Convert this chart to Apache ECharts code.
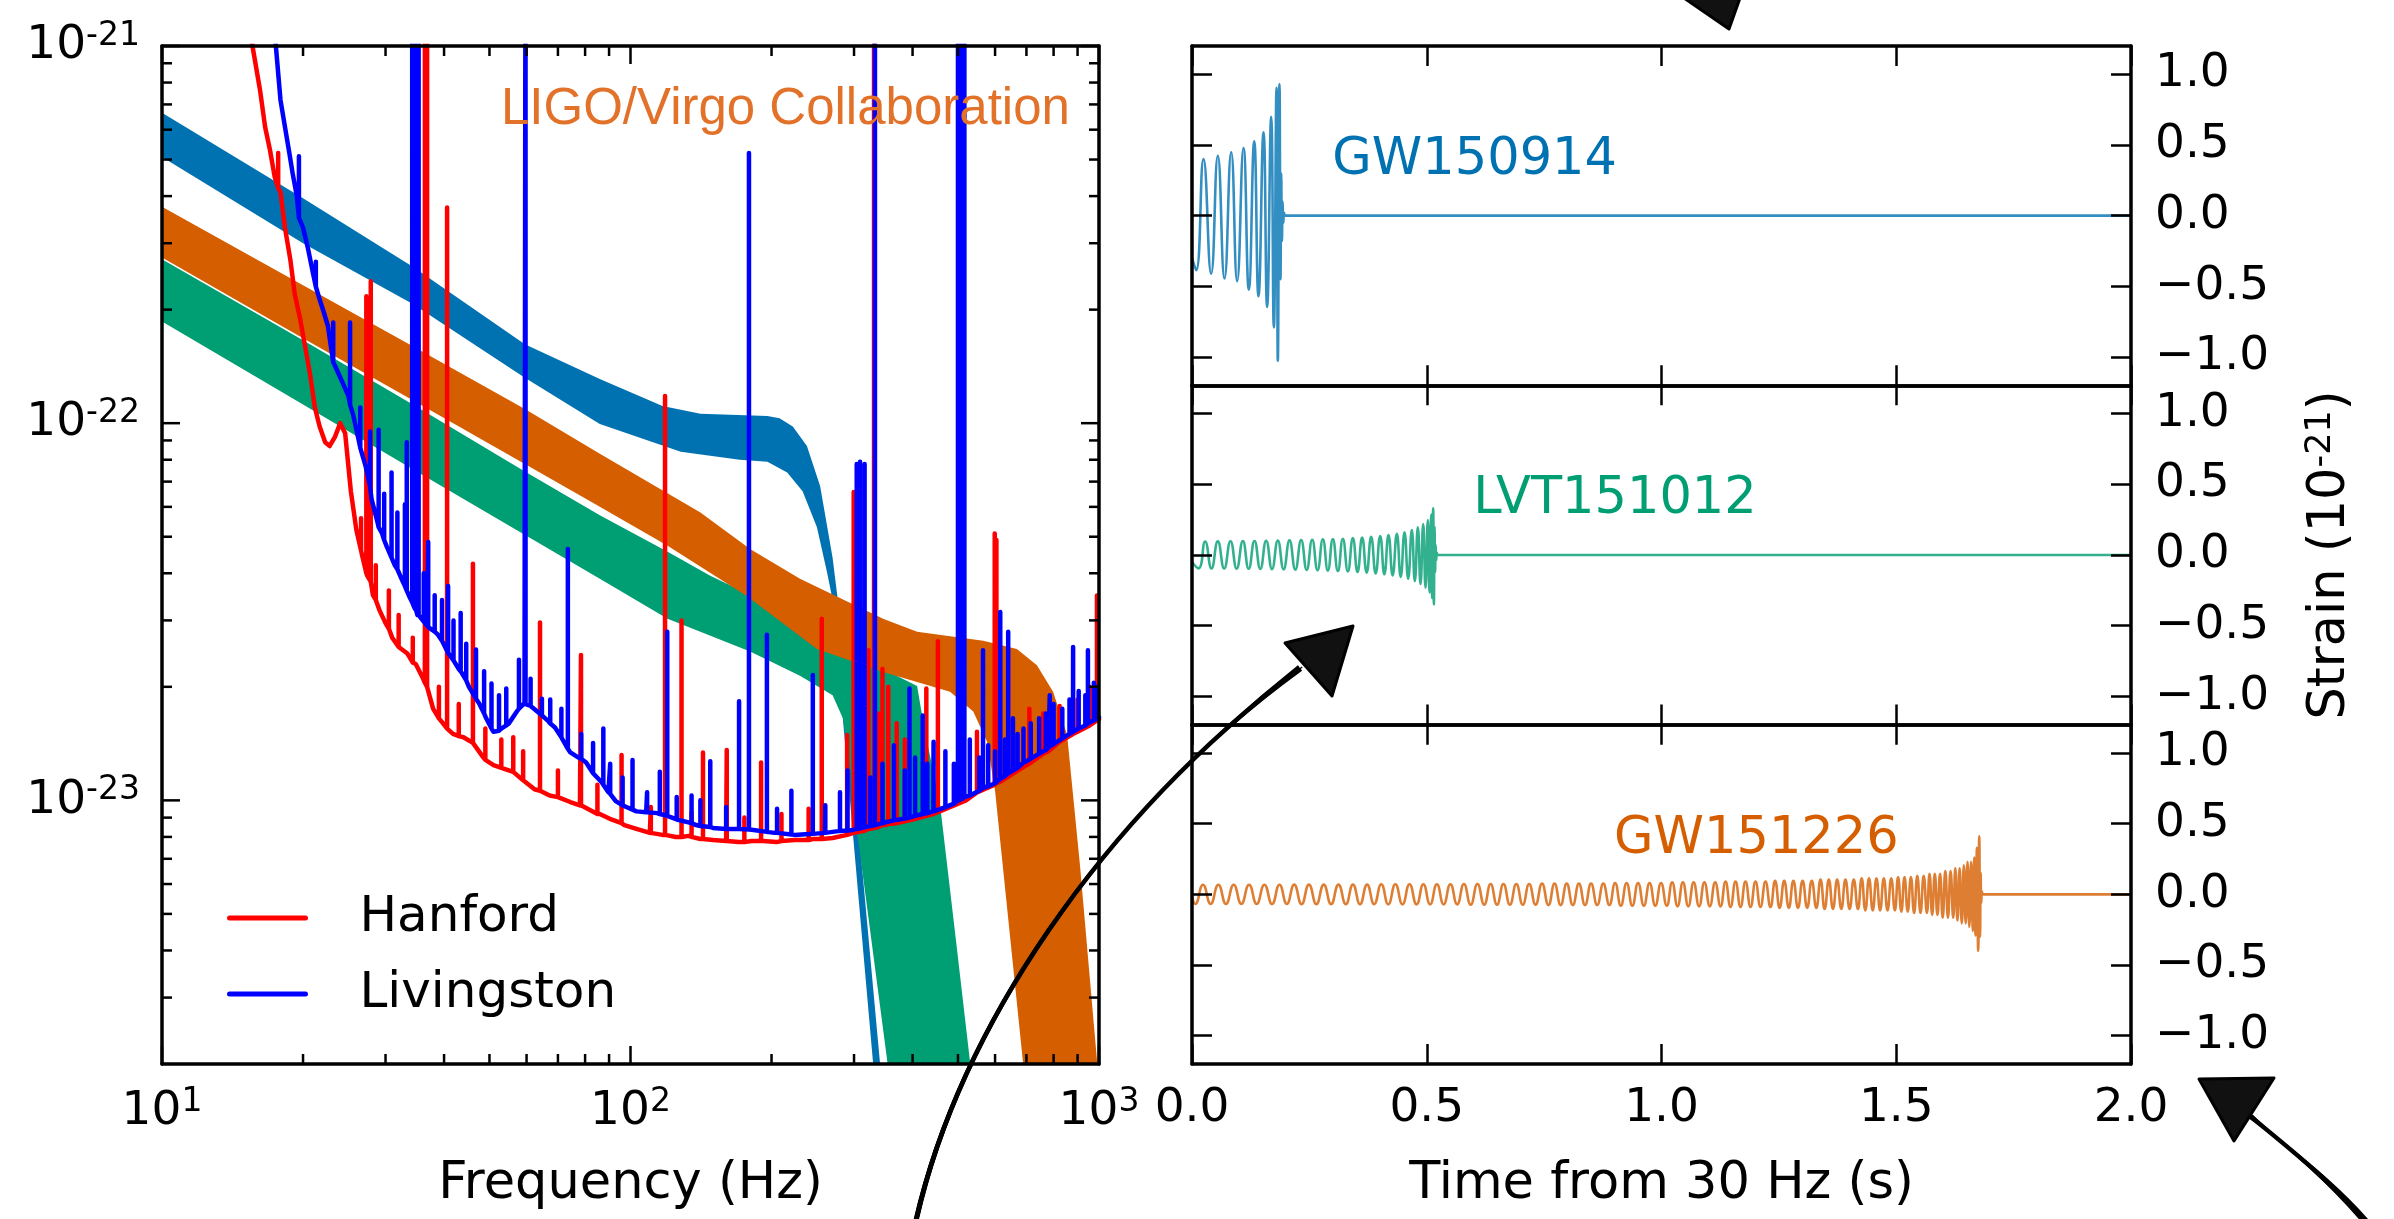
<!DOCTYPE html>
<html>
<head>
<meta charset="utf-8">
<script src="https://cdn.jsdelivr.net/npm/echarts@6/dist/echarts.min.js"></script>
<style>
html, body { margin: 0; padding: 0; background: #fff; }
#chart { width: 2394px; height: 1219px; }
</style>
</head>
<body>
<div id="chart"></div>
<script>
// ---------- axis ranges and tick values ----------
const FREQ_MIN = 10, FREQ_MAX = 1000;
const STRAIN_MIN = 2e-24, STRAIN_MAX = 1e-21;
const freqTicksMajor = [10, 100, 1000];
const freqTickExponents = ['1', '2', '3'];
const freqTicksMinor = [20, 30, 40, 50, 60, 70, 80, 90, 200, 300, 400, 500, 600, 700, 800, 900];
const strainTicksMajor = [1e-23, 1e-22, 1e-21];
const strainTickExponents = ['-23', '-22', '-21'];
const strainTicksMinor = [3e-24, 4e-24, 5e-24, 6e-24, 7e-24, 8e-24, 9e-24,
  2e-23, 3e-23, 4e-23, 5e-23, 6e-23, 7e-23, 8e-23, 9e-23,
  2e-22, 3e-22, 4e-22, 5e-22, 6e-22, 7e-22, 8e-22, 9e-22];
const TIME_MIN = 0, TIME_MAX = 2, TIME_STEP = 0.5;
const PANEL_MIN = -1.2, PANEL_MAX = 1.2;
const panelStrainTicks = [-1, -0.5, 0, 0.5, 1];

// ---------- signal bands: [frequency Hz, amplitude] along upper and lower edges ----------
const gw150914BandUpper = [[10, 6.65e-22], [20, 3.95e-22], [34.3, 2.6e-22], [59.5, 1.62e-22], [86, 1.31e-22],
  [117, 1.11e-22], [141, 1.06e-22], [196, 1.045e-22], [208, 1.03e-22], [222, 9.8e-23], [238, 8.7e-23],
  [254, 6.8e-23], [270, 4.4e-23], [277, 3.4e-23], [307, 8.3e-24], [341, 2.0e-24], [352, 1.3e-24]];
const gw150914BandLower = [[10, 5.08e-22], [20, 3.0e-22], [34.3, 2.07e-22], [59.5, 1.32e-22], [86, 9.95e-23],
  [128, 8.4e-23], [171, 8.0e-23], [196, 7.9e-23], [216, 7.4e-23], [233, 6.6e-23], [250, 5.3e-23],
  [263, 4.0e-23], [270, 3.4e-23], [298, 8.3e-24], [329, 2.05e-24], [340, 1.3e-24]];

const lvt151012BandUpper = [[10, 2.72e-22], [20, 1.66e-22], [34.3, 1.12e-22], [59.5, 7.45e-23], [86, 5.7e-23],
  [120, 4.56e-23], [148, 3.94e-23], [230, 3.03e-23], [298, 2.48e-23], [346, 2.23e-23], [409, 2.01e-23],
  [425, 1.52e-23], [443, 1.19e-23], [458, 9.7e-24], [493, 4.45e-24], [530, 2.05e-24], [544, 1.53e-24]];
const lvt151012BandLower = [[10, 1.86e-22], [20, 1.12e-22], [34.3, 7.55e-23], [86, 3.87e-23], [120, 3.03e-23],
  [180, 2.48e-23], [230, 2.14e-23], [270, 1.9e-23], [284, 1.65e-23], [294, 1.24e-23], [304.5, 8.3e-24],
  [353, 2.05e-24], [361, 1.53e-24]];

const gw151226BandUpper = [[10, 3.75e-22], [20, 2.32e-22], [34.3, 1.6e-22], [59.5, 1.09e-22], [86, 8.3e-23],
  [141, 5.8e-23], [180, 4.64e-23], [230, 3.87e-23], [346, 3.03e-23], [409, 2.8e-23], [566, 2.65e-23],
  [668, 2.52e-23], [737, 2.28e-23], [798, 1.94e-23], [855, 1.49e-23], [911, 6.7e-24], [990, 2.05e-24], [1030, 1.36e-24]];
const gw151226BandLower = [[10, 2.75e-22], [20, 1.68e-22], [34.3, 1.15e-22], [59.5, 7.8e-23], [86, 6.0e-23],
  [120, 4.73e-23], [177, 3.48e-23], [250, 2.52e-23], [346, 2.19e-23], [481, 1.94e-23], [539, 1.72e-23],
  [577, 1.43e-23], [600, 1.06e-23], [688, 2.03e-24], [701, 1.44e-24]];

// ---------- detector noise: floor [f, asd] and spectral lines [f, floor, peak] ----------
const hanfordFloor = [[15.0, 1.5e-21], [15.6, 1.0e-21], [16.2, 7.6e-22], [16.6, 6.1e-22], [17.0, 5.3e-22], [17.4, 4.5e-22],
  [17.9, 4.1e-22], [18.3, 3.3e-22], [18.8, 2.7e-22], [19.2, 2.2e-22], [19.7, 1.9e-22], [20.2, 1.6e-22], [20.7, 1.35e-22],
  [21.2, 1.1e-22], [21.7, 9.8e-23], [22.3, 8.9e-23], [22.8, 8.7e-23], [23.4, 9.2e-23], [24.0, 1.0e-22], [24.6, 9.4e-23],
  [25.3, 6.6e-23], [26.0, 5.2e-23], [26.7, 4.5e-23], [27.4, 3.95e-23], [28.2, 3.5e-23], [29.1, 3.2e-23], [30.0, 2.95e-23],
  [31.0, 2.7e-23], [32.2, 2.55e-23], [33.4, 2.45e-23], [34.8, 2.3e-23], [36.1, 2.1e-23], [37.9, 1.75e-23], [39.8, 1.6e-23],
  [41.8, 1.5e-23], [44.0, 1.47e-23], [46.3, 1.42e-23], [48.5, 1.3e-23], [51.0, 1.24e-23], [53.5, 1.22e-23], [56.5, 1.19e-23],
  [59.5, 1.12e-23], [62.4, 1.07e-23], [67.2, 1.03e-23], [70.5, 1.02e-23], [74.4, 9.9e-24], [78, 9.7e-24], [82.3, 9.4e-24],
  [86, 9.2e-24], [91, 8.9e-24], [97, 8.6e-24], [103, 8.4e-24], [110, 8.2e-24], [117, 8.1e-24], [125, 8.0e-24], [133, 8.05e-24],
  [141, 7.9e-24], [150, 7.85e-24], [160, 7.8e-24], [170, 7.75e-24], [181, 7.8e-24], [192, 7.8e-24], [205, 7.75e-24],
  [224, 7.85e-24], [245, 7.9e-24], [270, 7.95e-24], [300, 8.2e-24], [350, 8.6e-24], [400, 8.9e-24], [443, 9.2e-24],
  [520, 1.0e-23], [615, 1.12e-23], [700, 1.24e-23], [780, 1.35e-23], [880, 1.5e-23], [1000, 1.64e-23]];
const hanfordLines = [[17.7, 4.2e-22, 5.2e-22], [27.3, 4.0e-23, 2.17e-22], [27.9, 3.8e-23, 2.38e-22], [30.5, 2.85e-23, 3.6e-23],
  [36.4, 2.05e-23, 3e-21], [36.8, 2.0e-23, 3e-21], [40.6, 1.55e-23, 3.73e-22], [46.1, 1.42e-23, 4.24e-23],
  [56.2, 1.19e-23, 1.47e-23], [64.1, 1.06e-23, 2.96e-23], [78.4, 9.7e-24, 2.43e-23], [95.7, 8.7e-24, 1.32e-23],
  [118.5, 8.1e-24, 1.18e-22], [128.5, 8.0e-24, 3.0e-23], [142.8, 7.9e-24, 1.34e-23], [160.5, 7.8e-24, 1.36e-23],
  [190, 7.8e-24, 1.26e-23], [256, 7.9e-24, 3.03e-23], [290, 8.1e-24, 1.49e-23], [299.5, 8.2e-24, 6.57e-23],
  [315, 8.3e-24, 1.9e-23], [322, 8.4e-24, 2.5e-23], [331, 8.45e-24, 3e-21], [338, 8.5e-24, 1.7e-23], [345, 8.6e-24, 2.23e-23],
  [355, 8.65e-24, 2.0e-23], [370, 8.7e-24, 1.6e-23], [385, 8.8e-24, 1.45e-23], [428, 9.1e-24, 1.98e-23], [453, 9.3e-24, 2.64e-23],
  [549, 1.05e-23, 1.52e-23], [599, 1.1e-23, 5.1e-23], [604, 1.11e-23, 4.9e-23], [710, 1.25e-23, 1.75e-23],
  [760, 1.33e-23, 1.7e-23], [824, 1.43e-23, 1.78e-23], [900, 1.52e-23, 1.85e-23], [955, 1.58e-23, 2.0e-23],
  [990, 1.63e-23, 3.49e-23],
  [26.6, 4.6e-23, 5.6e-23], [28.6, 3.4e-23, 4.2e-23], [32.0, 2.55e-23, 3.1e-23], [34.3, 2.32e-23, 2.7e-23],
  [39.0, 1.65e-23, 2.0e-23], [43.0, 1.48e-23, 1.8e-23], [49.0, 1.28e-23, 1.55e-23], [53.0, 1.22e-23, 1.45e-23],
  [59.0, 1.13e-23, 1.35e-23], [70.0, 1.02e-23, 1.2e-23], [85.0, 9.2e-24, 1.1e-23], [110.5, 8.2e-24, 9.6e-24],
  [135, 8.0e-24, 9.3e-24], [175, 7.75e-24, 9.0e-24], [210, 7.8e-24, 9.2e-24], [240, 7.85e-24, 9.5e-24]];

const livingstonFloor = [[17.1, 1.5e-21], [17.5, 1.0e-21], [17.9, 7.2e-22], [18.3, 6.1e-22], [18.7, 5.2e-22], [19.0, 4.6e-22],
  [19.4, 4.0e-22], [20.0, 3.3e-22], [20.5, 2.9e-22], [21.0, 2.5e-22], [21.7, 2.13e-22], [22.2, 1.95e-22], [22.6, 1.81e-22],
  [23.4, 1.42e-22], [24.3, 1.28e-22], [25.0, 1.18e-22], [25.6, 1.05e-22], [26.2, 9.2e-23], [27.2, 7.7e-23], [28.0, 6.3e-23],
  [28.8, 5.5e-23], [29.5, 5.1e-23], [30.2, 4.7e-23], [31.4, 4.2e-23], [32.6, 3.82e-23], [33.8, 3.45e-23], [35.1, 3.1e-23],
  [36.8, 2.9e-23], [38.8, 2.75e-23], [40.9, 2.45e-23], [43.0, 2.23e-23], [45.2, 2.0e-23], [47.5, 1.81e-23], [49.2, 1.65e-23],
  [51.0, 1.52e-23], [53.0, 1.55e-23], [55.0, 1.6e-23], [57.2, 1.72e-23], [59.4, 1.81e-23], [61.6, 1.76e-23], [64.0, 1.7e-23],
  [66.5, 1.63e-23], [69.0, 1.56e-23], [71.6, 1.45e-23], [74.4, 1.34e-23], [77.3, 1.3e-23], [80.4, 1.26e-23], [83.4, 1.18e-23],
  [86.6, 1.12e-23], [89.7, 1.05e-23], [93, 9.95e-24], [98, 9.6e-24], [103, 9.35e-24], [108, 9.3e-24], [114, 9.25e-24],
  [120, 9.05e-24], [126, 8.85e-24], [138, 8.6e-24], [150, 8.45e-24], [165, 8.4e-24], [183, 8.35e-24], [203, 8.2e-24],
  [224, 8.1e-24], [260, 8.2e-24], [298, 8.35e-24], [350, 8.75e-24], [400, 9.05e-24], [443, 9.35e-24], [520, 1.02e-23],
  [615, 1.14e-23], [700, 1.27e-23], [780, 1.38e-23], [880, 1.52e-23], [1000, 1.66e-23]];
const livingstonLines = [[19.6, 3.5e-22, 5.1e-22], [21.3, 2.3e-22, 2.68e-22], [23.2, 1.45e-22, 1.85e-22], [25.2, 1.12e-22, 1.85e-22],
  [29.0, 5.3e-23, 9.6e-23], [30.9, 4.4e-23, 7.4e-23], [33.0, 3.7e-23, 6.1e-23], [33.3, 3.6e-23, 8.9e-23],
  [34.2, 3.35e-23, 3e-21], [34.55, 3.25e-23, 3e-21], [34.9, 3.18e-23, 3e-21], [35.3, 3.1e-23, 3e-21],
  [37.0, 2.88e-23, 4.84e-23], [40.8, 2.46e-23, 3.7e-23], [43.4, 2.2e-23, 3.14e-23], [46.8, 1.86e-23, 2.51e-23],
  [50.5, 1.55e-23, 2.04e-23], [54.3, 1.58e-23, 1.98e-23], [57.8, 1.75e-23, 2.36e-23], [59.7, 1.8e-23, 3e-21],
  [64.7, 1.68e-23, 1.86e-23], [73.5, 1.37e-23, 4.64e-23], [83.2, 1.18e-23, 1.42e-23], [87.5, 1.1e-23, 1.55e-23],
  [101, 9.45e-24, 1.28e-23], [115.5, 9.2e-24, 1.19e-23], [119.8, 9.1e-24, 2.8e-23], [135, 8.7e-24, 1.03e-23],
  [148, 8.5e-24, 1.27e-23], [170.5, 8.4e-24, 1.83e-23], [179, 8.37e-24, 5.2e-22], [195.5, 8.25e-24, 2.75e-23],
  [220.5, 8.12e-24, 1.06e-23], [245, 8.15e-24, 2.15e-23], [304, 8.4e-24, 7.8e-23], [309, 8.42e-24, 7.9e-23],
  [316, 8.48e-24, 7.8e-23], [332.5, 8.6e-24, 3e-21], [394, 9.0e-24, 1.98e-23], [420.5, 9.2e-24, 1.68e-23],
  [443.5, 9.35e-24, 1.43e-23], [500, 1.0e-23, 3e-21], [504, 1.0e-23, 3e-21], [508, 1.01e-23, 3e-21],
  [512, 1.01e-23, 3e-21], [516, 1.02e-23, 3e-21], [565.5, 1.08e-23, 2.5e-23], [615.5, 1.14e-23, 3.16e-23],
  [640, 1.18e-23, 2.8e-23], [655, 1.2e-23, 1.65e-23], [785, 1.39e-23, 1.9e-23], [880.5, 1.52e-23, 2.55e-23],
  [947, 1.6e-23, 2.5e-23], [990, 1.65e-23, 2.0e-23],
  [26.5, 8.6e-23, 1.1e-22], [27.8, 6.8e-23, 9.5e-23], [29.8, 4.9e-23, 6.5e-23], [31.8, 4.1e-23, 5.8e-23],
  [36.2, 2.98e-23, 4.0e-23], [38.2, 2.8e-23, 3.5e-23], [39.6, 2.65e-23, 3.4e-23], [41.9, 2.35e-23, 3.0e-23],
  [44.6, 2.08e-23, 2.6e-23], [48.7, 1.7e-23, 2.2e-23], [52.4, 1.53e-23, 1.9e-23], [61.2, 1.78e-23, 2.1e-23],
  [67.4, 1.6e-23, 1.85e-23], [71.2, 1.47e-23, 1.75e-23], [78.5, 1.29e-23, 1.5e-23], [90.5, 1.04e-23, 1.25e-23],
  [96.2, 9.7e-24, 1.15e-23], [108.5, 9.3e-24, 1.05e-23], [125.5, 8.9e-24, 1.02e-23], [141, 8.55e-24, 1.0e-23],
  [160, 8.4e-24, 9.6e-24], [205.5, 8.2e-24, 9.5e-24], [260.5, 8.2e-24, 9.7e-24], [280, 8.3e-24, 1.05e-23],
  [290.5, 8.32e-24, 1.2e-23],
  [311, 8.45e-24, 1.3e-23], [325, 8.55e-24, 1.15e-23], [345, 8.7e-24, 1.25e-23], [365, 8.85e-24, 1.4e-23],
  [385, 8.95e-24, 1.2e-23], [405, 9.1e-24, 1.3e-23], [430, 9.25e-24, 1.25e-23], [470, 9.6e-24, 1.35e-23],
  [490, 9.8e-24, 1.25e-23], [530, 1.03e-23, 1.45e-23], [555, 1.06e-23, 1.3e-23], [580, 1.09e-23, 1.4e-23],
  [600, 1.11e-23, 1.35e-23], [630, 1.16e-23, 1.45e-23], [670, 1.22e-23, 1.5e-23], [690, 1.26e-23, 1.55e-23],
  [715, 1.29e-23, 1.6e-23], [745, 1.33e-23, 1.65e-23], [770, 1.36e-23, 1.7e-23], [800, 1.41e-23, 1.8e-23],
  [835, 1.46e-23, 1.75e-23], [865, 1.5e-23, 1.85e-23], [905, 1.55e-23, 1.95e-23], [935, 1.58e-23, 1.9e-23],
  [975, 1.63e-23, 2.05e-23]];

// ---------- strain waveforms: [time from 30 Hz (s), strain (1e-21)] at successive extrema ----------
const gw150914Strain = [[0, -0.3], [0.0089, -0.386], [0.0245, 0.40], [0.0408, -0.41], [0.055, 0.424], [0.0692, -0.445],
  [0.0835, 0.448], [0.0962, -0.464], [0.1097, 0.479], [0.121, -0.523], [0.1325, 0.526], [0.1416, -0.57], [0.1523, 0.59],
  [0.160, -0.646], [0.1686, 0.70], [0.1743, -0.79], [0.180, 0.905], [0.1828, -1.026], [0.1864, 0.929], [0.1885, -0.45],
  [0.1900, 0.30], [0.1915, -0.18], [0.1930, 0.10], [0.1945, -0.05], [0.1960, 0.02], [0.198, 0], [2, 0]];

const lvt151012Strain = [[0, -0.05], [0.0140, -0.095], [0.0280, 0.095], [0.0415, -0.095], [0.0550, 0.096], [0.0685, -0.096],
  [0.0820, 0.097], [0.0952, -0.097], [0.1083, 0.098], [0.1207, -0.098], [0.1331, 0.099], [0.1455, -0.099], [0.1580, 0.100],
  [0.1704, -0.100], [0.1828, 0.101], [0.1952, -0.102], [0.2077, 0.103], [0.2201, -0.104], [0.2325, 0.105], [0.2443, -0.106],
  [0.2560, 0.107], [0.2674, -0.108], [0.2787, 0.110], [0.2894, -0.111], [0.3000, 0.112], [0.3107, -0.114], [0.3213, 0.115],
  [0.3320, -0.117], [0.3426, 0.119], [0.3525, -0.121], [0.3624, 0.123], [0.3720, -0.125], [0.3816, 0.128], [0.3912, -0.131],
  [0.4008, 0.134], [0.4097, -0.137], [0.4185, 0.141], [0.4274, -0.145], [0.4363, 0.150], [0.4445, -0.155], [0.4526, 0.161],
  [0.4604, -0.168], [0.4682, 0.176], [0.4746, -0.185], [0.4810, 0.195], [0.4867, -0.206], [0.4924, 0.218], [0.4974, -0.232],
  [0.5023, 0.247], [0.5059, -0.265], [0.5094, 0.285], [0.5116, -0.305], [0.5137, 0.33], [0.5152, -0.35], [0.5166, 0.20],
  [0.5178, -0.12], [0.5190, 0.07], [0.5202, -0.035], [0.5215, 0.015], [0.5230, 0], [2, 0]];

const gw151226Strain = [[0, -0.015],
  [0.0070, -0.068], [0.0234, 0.068], [0.0397, -0.068], [0.0561, 0.068], [0.0724, -0.068], [0.0888, 0.068], [0.1051, -0.068],
  [0.1215, 0.068], [0.1378, -0.068], [0.1542, 0.068], [0.1706, -0.068], [0.1863, 0.068], [0.2020, -0.068], [0.2177, 0.069],
  [0.2334, -0.069], [0.2491, 0.069], [0.2649, -0.069], [0.2806, 0.069], [0.2963, -0.069], [0.3120, 0.069], [0.3277, -0.069],
  [0.3428, 0.069], [0.3579, -0.069], [0.3729, 0.069], [0.3880, -0.069], [0.4031, 0.071], [0.4181, -0.071], [0.4332, 0.071],
  [0.4483, -0.071], [0.4633, 0.071], [0.4784, -0.071], [0.4928, 0.071], [0.5072, -0.071], [0.5216, 0.071], [0.5360, -0.071],
  [0.5504, 0.071], [0.5648, -0.071], [0.5792, 0.073], [0.5936, -0.073], [0.6080, 0.073], [0.6224, -0.073], [0.6360, 0.073],
  [0.6497, -0.073], [0.6634, 0.073], [0.6771, -0.073], [0.6908, 0.073], [0.7045, -0.073], [0.7181, 0.073], [0.7318, -0.073],
  [0.7455, 0.076], [0.7592, -0.076], [0.7722, 0.076], [0.7852, -0.076], [0.7981, 0.076], [0.8111, -0.076], [0.8241, 0.076],
  [0.8371, -0.076], [0.8500, 0.076], [0.8630, -0.076], [0.8760, 0.076], [0.8890, -0.076], [0.9012, 0.080], [0.9134, -0.080],
  [0.9257, 0.080], [0.9379, -0.080], [0.9501, 0.080], [0.9624, -0.080], [0.9746, 0.080], [0.9868, -0.080], [0.9990, 0.080],
  [1.0113, -0.080], [1.0227, 0.085], [1.0342, -0.085], [1.0456, 0.085], [1.0571, -0.085], [1.0685, 0.085], [1.0800, -0.085],
  [1.0914, 0.085], [1.1029, -0.085], [1.1143, 0.085], [1.1258, -0.085], [1.1364, 0.090], [1.1470, -0.090], [1.1577, 0.090],
  [1.1683, -0.090], [1.1789, 0.090], [1.1896, -0.090], [1.2002, 0.090], [1.2108, -0.090], [1.2215, 0.090], [1.2321, -0.090],
  [1.2419, 0.096], [1.2516, -0.096], [1.2614, 0.096], [1.2712, -0.096], [1.2809, 0.096], [1.2907, -0.096], [1.3005, 0.096],
  [1.3103, -0.096], [1.3200, 0.096], [1.3298, -0.096], [1.3387, 0.104], [1.3475, -0.104], [1.3564, 0.104], [1.3652, -0.104],
  [1.3741, 0.104], [1.3830, -0.104], [1.3918, 0.104], [1.4007, -0.104], [1.4095, 0.104], [1.4184, -0.104], [1.4263, 0.113],
  [1.4341, -0.113], [1.4420, 0.113], [1.4499, -0.113], [1.4578, 0.113], [1.4656, -0.113], [1.4735, 0.113], [1.4814, -0.113],
  [1.4893, 0.113], [1.4971, -0.113], [1.5039, 0.122], [1.5108, -0.122], [1.5176, 0.122], [1.5244, -0.122], [1.5312, 0.122],
  [1.5380, -0.132], [1.5448, 0.132], [1.5516, -0.132], [1.5584, 0.132], [1.5653, -0.132], [1.5709, 0.145], [1.5765, -0.145],
  [1.5821, 0.145], [1.5877, -0.145], [1.5933, 0.145], [1.5989, -0.165], [1.6045, 0.165], [1.6101, -0.165], [1.6157, 0.165],
  [1.6213, -0.165], [1.6258, 0.185], [1.6304, -0.185], [1.6350, 0.185], [1.6396, -0.205], [1.6441, 0.205], [1.6479, -0.205],
  [1.6518, 0.23], [1.6556, -0.23], [1.6594, 0.23], [1.6632, -0.26], [1.6661, 0.26], [1.6690, -0.29], [1.6719, 0.33],
  [1.6745, -0.40], [1.6768, 0.41], [1.6785, -0.30], [1.6798, 0.15], [1.6810, -0.06], [1.6825, 0.02], [1.6840, 0], [2, 0]];

// ---------- event names and where their labels sit (time, strain) ----------
const eventNames = ['GW150914', 'LVT151012', 'GW151226'];
const eventLabelTime = [0.3, 0.6, 0.9];
const eventLabelStrain = [0.3, 0.3, 0.3];

// ---------- styling ----------
const FONT = '"DejaVu Sans", sans-serif';
const C_BLUE = '#0072B2', C_GREEN = '#009E73', C_ORANGE = '#D55E00';
const eventColors = [C_BLUE, C_GREEN, C_ORANGE];
const TICK_FONT = 47, SUP_FONT = 33, TITLE_FONT = 51;
const frameLine = { show: true, onZero: false, lineStyle: { color: '#000', width: 3.5 } };
const panelTickStyle = { show: true, inside: true, length: 20, lineStyle: { color: '#000', width: 2.5 } };
const supRich = {
  b: { fontFamily: FONT, fontSize: TICK_FONT, lineHeight: 52, color: '#000' },
  s: { fontFamily: FONT, fontSize: SUP_FONT, lineHeight: 20, verticalAlign: 'top', color: '#000' }
};

function powerLabel(value, ticks, exps) {
  for (let i = 0; i < ticks.length; i++) {
    if (Math.abs(Math.log10(value) - Math.log10(ticks[i])) < 1e-6) return '{b|10}{s|' + exps[i] + '}';
  }
  return '';
}
function panelLabel(v) {
  return (v < 0 ? '\u2212' : '') + Math.abs(v).toFixed(1);
}

// one filled polygon per band, mapped through the log axes
function bandSeries(upper, lower, color) {
  const poly = upper.concat(lower.slice().reverse());
  return {
    type: 'custom', xAxisIndex: 0, yAxisIndex: 0, silent: true, clip: true,
    data: poly,
    renderItem: function (params, api) {
      if (params.dataIndex !== 0) return null;
      const cs = params.coordSys;
      return {
        type: 'polygon',
        shape: { points: poly.map(p => api.coord(p)) },
        style: { fill: color },
        clipPath: { type: 'rect', shape: { x: cs.x, y: cs.y, width: cs.width, height: cs.height } }
      };
    }
  };
}

// floor points plus vertical spectral lines, ordered by frequency
function buildSpectrum(floor, lines) {
  const groups = floor.map(p => [p]).concat(lines.map(l => [[l[0], l[1]], [l[0], l[2]], [l[0], l[1]]]));
  groups.sort((a, b) => a[0][0] - b[0][0]);
  return [].concat.apply([], groups);
}
function noiseSeries(name, floor, lines, color) {
  return {
    type: 'line', name: name, xAxisIndex: 0, yAxisIndex: 0, data: buildSpectrum(floor, lines),
    symbol: 'none', showSymbol: false, clip: true, silent: true,
    lineStyle: { color: color, width: 4.5, join: 'round', cap: 'round' }, itemStyle: { color: color }
  };
}

// inward tick marks on all four sides of the spectrum frame
function tickSeries(values, isX, len) {
  return {
    type: 'custom', xAxisIndex: 0, yAxisIndex: 0, silent: true, z: 20,
    data: values.map(v => isX ? [v, STRAIN_MAX] : [FREQ_MIN, v]),
    renderItem: function (params, api) {
      const cs = params.coordSys;
      const p = api.coord([api.value(0), api.value(1)]);
      const st = { stroke: '#000', lineWidth: 2.5 };
      if (isX) {
        const yb = cs.y + cs.height, yt = cs.y;
        return { type: 'group', children: [
          { type: 'line', shape: { x1: p[0], y1: yb, x2: p[0], y2: yb - len }, style: st },
          { type: 'line', shape: { x1: p[0], y1: yt, x2: p[0], y2: yt + len }, style: st }
        ] };
      }
      const xl = cs.x, xr = cs.x + cs.width;
      return { type: 'group', children: [
        { type: 'line', shape: { x1: xl, y1: p[1], x2: xl + len, y2: p[1] }, style: st },
        { type: 'line', shape: { x1: xr, y1: p[1], x2: xr - len, y2: p[1] }, style: st }
      ] };
    }
  };
}

function waveSeries(data, axisIndex, color) {
  return {
    type: 'line', xAxisIndex: axisIndex, yAxisIndex: axisIndex, data: data,
    symbol: 'none', showSymbol: false, smooth: true, clip: true, silent: true,
    lineStyle: { color: color, width: 2.6, opacity: 0.8 }
  };
}

// ---------- grids ----------
const gridBase = { containLabel: false, outerBoundsMode: 'none' };
const grids = [Object.assign({ left: 162, top: 46, width: 937, height: 1018 }, gridBase)];
[46, 385.3, 724.7].forEach(t => grids.push(Object.assign({ left: 1192, top: t, width: 939, height: 339.3 }, gridBase)));

// ---------- axes ----------
const xAxes = [
  {
    type: 'log', logBase: 10, gridIndex: 0, position: 'bottom', min: FREQ_MIN, max: FREQ_MAX, z: 10,
    axisLine: frameLine, axisTick: { show: false }, splitLine: { show: false },
    axisLabel: { show: true, showMinLabel: true, showMaxLabel: true, margin: 22, rich: supRich,
      formatter: v => powerLabel(v, freqTicksMajor, freqTickExponents) },
    name: 'Frequency (Hz)', nameLocation: 'middle', nameGap: 95,
    nameTextStyle: { fontFamily: FONT, fontSize: TITLE_FONT, color: '#000' }
  },
  {
    type: 'log', logBase: 10, gridIndex: 0, position: 'top', min: FREQ_MIN, max: FREQ_MAX, z: 10,
    axisLine: frameLine, axisTick: { show: false }, splitLine: { show: false }, axisLabel: { show: false }
  }
];
const yAxes = [
  {
    type: 'log', logBase: 10, gridIndex: 0, position: 'left', min: STRAIN_MIN, max: STRAIN_MAX, z: 10,
    axisLine: frameLine, axisTick: { show: false }, splitLine: { show: false },
    axisLabel: { show: true, showMinLabel: true, showMaxLabel: true, margin: 22, rich: supRich,
      formatter: v => powerLabel(v, strainTicksMajor, strainTickExponents) }
  },
  {
    type: 'log', logBase: 10, gridIndex: 0, position: 'right', min: STRAIN_MIN, max: STRAIN_MAX, z: 10,
    axisLine: frameLine, axisTick: { show: false }, splitLine: { show: false }, axisLabel: { show: false }
  }
];
for (let p = 0; p < 3; p++) {
  const last = p === 2;
  xAxes.push({
    type: 'value', gridIndex: p + 1, position: 'bottom', min: TIME_MIN, max: TIME_MAX, interval: TIME_STEP, z: 10,
    axisLine: frameLine, axisTick: panelTickStyle, splitLine: { show: false },
    axisLabel: last ? { show: true, showMinLabel: true, showMaxLabel: true, margin: 21, fontFamily: FONT,
      fontSize: TICK_FONT, color: '#000', formatter: v => v.toFixed(1) } : { show: false },
    name: last ? 'Time from 30 Hz (s)' : '', nameLocation: 'middle', nameGap: 95,
    nameTextStyle: { fontFamily: FONT, fontSize: TITLE_FONT, color: '#000' }
  });
  xAxes.push({
    type: 'value', gridIndex: p + 1, position: 'top', min: TIME_MIN, max: TIME_MAX, interval: TIME_STEP, z: 10,
    axisLine: frameLine, axisTick: panelTickStyle, splitLine: { show: false }, axisLabel: { show: false }
  });
  yAxes.push({
    type: 'value', gridIndex: p + 1, position: 'left', min: PANEL_MIN, max: PANEL_MAX, z: 10,
    axisLine: frameLine, axisTick: Object.assign({}, panelTickStyle, { customValues: panelStrainTicks }),
    splitLine: { show: false }, axisLabel: { show: false }
  });
  const right = {
    type: 'value', gridIndex: p + 1, position: 'right', min: PANEL_MIN, max: PANEL_MAX, z: 10,
    axisLine: frameLine, axisTick: Object.assign({}, panelTickStyle, { customValues: panelStrainTicks }),
    splitLine: { show: false },
    axisLabel: { show: true, customValues: panelStrainTicks, margin: 24, fontFamily: FONT, fontSize: TICK_FONT,
      color: '#000', formatter: panelLabel }
  };
  if (p === 1) {
    Object.assign(right, {
      name: '{n|Strain (10}{s|-21}{n|)}', nameLocation: 'middle', nameRotate: 90, nameGap: 172,
      nameTextStyle: { rich: {
        n: { fontFamily: FONT, fontSize: TITLE_FONT, lineHeight: 56, color: '#000' },
        s: { fontFamily: FONT, fontSize: 35, lineHeight: 20, verticalAlign: 'top', color: '#000' }
      } }
    });
  }
  yAxes.push(right);
}

// ---------- series ----------
const series = [
  bandSeries(gw150914BandUpper, gw150914BandLower, C_BLUE),
  bandSeries(lvt151012BandUpper, lvt151012BandLower, C_GREEN),
  bandSeries(gw151226BandUpper, gw151226BandLower, C_ORANGE),
  noiseSeries('Hanford', hanfordFloor, hanfordLines, '#FF0000'),
  noiseSeries('Livingston', livingstonFloor, livingstonLines, '#0000FF'),
  tickSeries(freqTicksMajor, true, 18),
  tickSeries(freqTicksMinor, true, 10),
  tickSeries(strainTicksMajor, false, 18),
  tickSeries(strainTicksMinor, false, 10),
  waveSeries(gw150914Strain, 2, C_BLUE),
  waveSeries(lvt151012Strain, 4, C_GREEN),
  waveSeries(gw151226Strain, 6, C_ORANGE)
];
eventNames.forEach((name, i) => series.push({
  type: 'scatter', xAxisIndex: 2 + 2 * i, yAxisIndex: 2 + 2 * i, silent: true, z: 5,
  symbolSize: 1, itemStyle: { color: 'rgba(0,0,0,0)' },
  data: [[eventLabelTime[i], eventLabelStrain[i]]],
  label: { show: true, position: [0, 0], align: 'left', verticalAlign: 'middle', offset: [0, -12],
    formatter: name, fontFamily: FONT, fontSize: 51, color: eventColors[i], opacity: 1 }
}));

// ---------- hand-drawn annotation arrows ----------
function sketchCurve(x1, y1, c1x, c1y, c2x, c2y, x2, y2) {
  const strokes = [[0, 0, 4.5], [2, -1.5, 2], [-2, 1.5, 2], [1, 2.2, 1.4], [-1, -2.2, 1.2]];
  return strokes.map(s => ({
    type: 'bezierCurve', z: 100, silent: true,
    shape: { x1: x1 + s[0], y1: y1 + s[1], cpx1: c1x + s[0], cpy1: c1y + s[1], cpx2: c2x - s[1], cpy2: c2y + s[0], x2: x2 + s[1], y2: y2 - s[0] },
    style: { stroke: '#000', lineWidth: s[2], fill: null }
  }));
}
function sketchHead(points) {
  return { type: 'polygon', z: 101, silent: true, shape: { points: points },
    style: { fill: '#111', stroke: '#000', lineWidth: 3, lineJoin: 'round' } };
}
const graphics = [].concat(
  sketchCurve(915, 1225, 958, 1030, 1100, 820, 1300, 668),
  [sketchHead([[1285, 643], [1353, 626], [1332, 696]])],
  sketchCurve(2366, 1222, 2330, 1180, 2285, 1145, 2250, 1116),
  [sketchHead([[2199, 1079], [2274, 1078], [2234, 1141]])],
  [sketchHead([[1684, -2], [1740, -2], [1729, 29]])],
  [{
    type: 'text', z: 50, silent: true, x: 501, y: 110,
    style: { text: 'LIGO/Virgo Collaboration', fontFamily: '"Liberation Sans", Arial, sans-serif', fontSize: 51,
      fill: '#E2722A', align: 'left', verticalAlign: 'middle' }
  }]
);

const chart = echarts.init(document.getElementById('chart'), null, { renderer: 'canvas', width: 2394, height: 1219 });
chart.setOption({
  animation: false,
  backgroundColor: '#ffffff',
  grid: grids,
  xAxis: xAxes,
  yAxis: yAxes,
  legend: {
    data: ['Hanford', 'Livingston'], orient: 'vertical', left: 222, top: 888,
    itemWidth: 76, itemHeight: 20, itemGap: 26, selectedMode: false,
    itemStyle: { opacity: 0 }, lineStyle: { width: 5 },
    textStyle: { fontFamily: FONT, fontSize: 50, color: '#000', padding: [0, 0, 0, 49] }
  },
  series: series,
  graphic: graphics
});
</script>
</body>
</html>
